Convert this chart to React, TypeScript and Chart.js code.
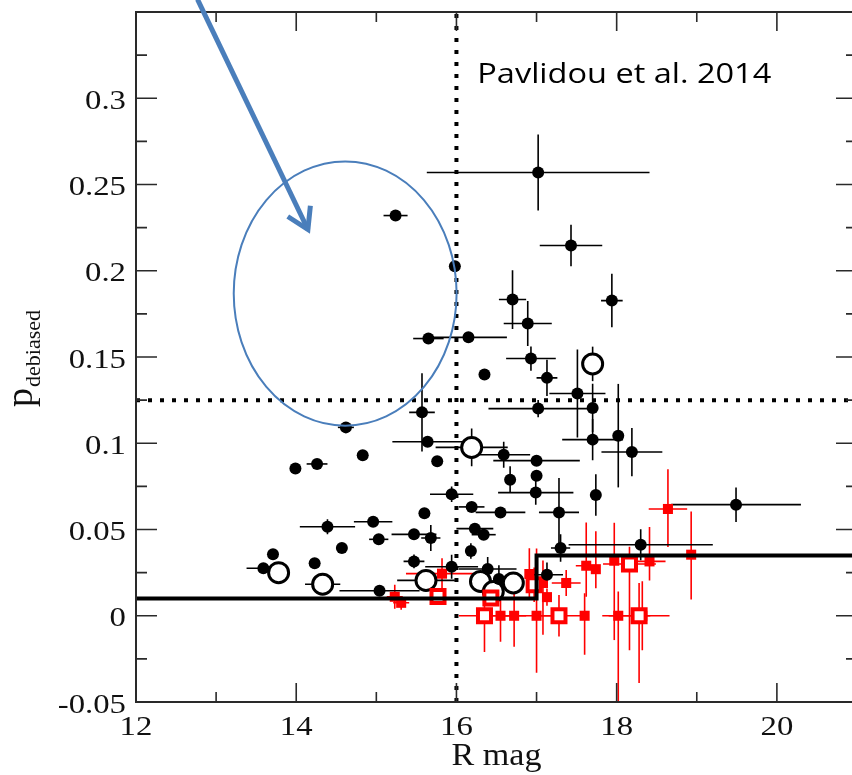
import React, { useEffect, useRef } from "react";
import { Chart, registerables } from "chart.js";

Chart.register(...registerables);

// ---------------- axes ----------------
const X_MIN = 12;
const X_MAX = 21;
const Y_MIN = -0.05;
const Y_MAX = 0.35;
const xMajorTicks = [12, 14, 16, 18, 20];
const xMinorTicks = [13, 15, 17, 19];
const xTickLabels = ["12", "14", "16", "18", "20"];
const yMajorTicks = [-0.05, 0, 0.05, 0.1, 0.15, 0.2, 0.25, 0.3];
const yMinorTicks = [-0.025, 0.025, 0.075, 0.125, 0.175, 0.225, 0.275, 0.325];
const yTickLabels = ["-0.05", "0", "0.05", "0.1", "0.15", "0.2", "0.25", "0.3"];
const xTitle = "R mag";
const yTitleMain = "p";
const yTitleSub = "debiased";
const noteText = "Pavlidou et al. 2014";

// ---------------- thresholds ----------------
const magCut = 16;
const pCut = 0.125;
const stepX = [12, 17, 17, 21];
const stepY = [0.01, 0.01, 0.035, 0.035];

// ---------------- black filled points ----------------
const blackX = [17.02, 15.24, 17.43, 15.98, 16.70, 16.89, 17.94, 15.65, 16.15, 16.93, 17.13, 16.35, 17.51, 17.02, 17.70, 17.70, 18.02, 18.19, 16.59, 17.00, 17.00, 16.99, 16.67, 17.74, 17.28, 16.55, 16.19, 15.94, 15.76, 15.57, 15.64, 14.62, 14.83, 14.26, 13.99, 15.60, 14.39, 14.96, 15.03, 15.47, 15.68, 14.57, 13.71, 13.59, 14.23, 15.04, 15.47, 15.94, 16.23, 16.34, 16.18, 16.39, 16.53, 17.13, 17.30, 18.30, 19.49];
const blackY = [0.257, 0.232, 0.2146, 0.2026, 0.1833, 0.1694, 0.1827, 0.1607, 0.1614, 0.1491, 0.1379, 0.1398, 0.1288, 0.1201, 0.1205, 0.1021, 0.1044, 0.0949, 0.0933, 0.0899, 0.0812, 0.0714, 0.0789, 0.0700, 0.0599, 0.0599, 0.0631, 0.0704, 0.0895, 0.1179, 0.1009, 0.1092, 0.0930, 0.0880, 0.0853, 0.0594, 0.0516, 0.0545, 0.0443, 0.0472, 0.0451, 0.0393, 0.0356, 0.0275, 0.0304, 0.0145, 0.0315, 0.0284, 0.0505, 0.0470, 0.0375, 0.0271, 0.0213, 0.0238, 0.0393, 0.0412, 0.0644];
const blackXErr = [1.39, 0.15, 0.39, 0, 0.17, 0.30, 0.135, 0.19, 0.48, 0.31, 0.13, 0, 0.35, 0.62, 0, 0.38, 0, 0.38, 0.33, 0.54, 0, 0.47, 0.05, 0, 0.25, 0.31, 0.16, 0.27, 0, 0.16, 0.44, 0.1, 0, 0.13, 0, 0, 0.345, 0.24, 0.12, 0.28, 0.12, 0, 0, 0.21, 0, 0.5, 0.13, 0.33, 0.23, 0.15, 0, 0.36, 0, 0.2, 0.12, 0.9, 0.81];
const blackYErr = [0.022, 0, 0.012, 0, 0.017, 0.013, 0.0155, 0, 0, 0.007, 0.0105, 0, 0.0255, 0.005, 0.014, 0.012, 0.03, 0.014, 0.0075, 0, 0, 0.007, 0.0077, 0.012, 0.02, 0, 0, 0.0045, 0, 0.0227, 0, 0, 0, 0, 0, 0, 0.0044, 0, 0, 0, 0.0075, 0, 0, 0, 0, 0, 0.004, 0.007, 0, 0, 0.0045, 0.007, 0.008, 0.007, 0.008, 0.009, 0.01];

// ---------------- black open circles ----------------
const circleX = [13.78, 14.33, 15.62, 16.30, 16.46, 16.71, 16.19, 17.70];
const circleY = [0.025, 0.0183, 0.0205, 0.0199, 0.014, 0.019, 0.0976, 0.146];
const circleXErr = [0, 0.22, 0.36, 0, 0, 0, 0.45, 0];
const circleYErr = [0, 0, 0, 0, 0, 0, 0.011, 0.01];

// ---------------- red filled squares ----------------
const redX = [15.23, 15.31, 15.82, 16.55, 16.72, 16.91, 17.08, 17.13, 17.00, 17.60, 17.37, 17.62, 17.74, 17.97, 18.02, 18.41, 18.32, 18.64, 18.93];
const redY = [0.011, 0.0075, 0.0244, 0.0, 0.0, 0.0242, 0.019, 0.0108, 0.0, 0.0, 0.019, 0.029, 0.027, 0.0319, 0.0, 0.0315, 0.0, 0.0619, 0.0354];
const redXErr = [0.1, 0.1, 0.45, 0.1, 0.15, 0.05, 0, 0, 0.27, 0.05, 0.18, 0.13, 0.03, 0, 0.2, 0.2, 0.1, 0.24, 0];
const redYErrLo = [0.007, 0.004, 0.009, 0.015, 0.018, 0.015, 0.03, 0.005, 0.033, 0.0226, 0.0075, 0.018, 0.011, 0.046, 0.06, 0.011, 0.02, 0.022, 0.026];
const redYErrHi = [0.007, 0.004, 0.009, 0.015, 0.018, 0.015, 0.013, 0.005, 0.039, 0.013, 0.0075, 0.025, 0.022, 0.022, 0.014, 0.02, 0.02, 0.023, 0.025];

// ---------------- red open squares ----------------
const redOpenX = [15.77, 16.43, 16.35, 16.97, 17.28, 18.16, 18.28];
const redOpenY = [0.0112, 0.0103, 0.0, 0.018, 0.0, 0.030, 0.0];
const redOpenXErr = [0, 0, 0.32, 0, 0.27, 0.33, 0.38];
const redOpenYErrLo = [0, 0, 0.021, 0.01, 0.012, 0.05, 0.039];
const redOpenYErrHi = [0, 0, 0.02, 0.01, 0.012, 0.01, 0.019];

// ---------------- annotation (data coords) ----------------
const ellipseCenter = [14.611, 0.1868];
const ellipseRadii = [1.391, 0.0766];
const arrowFrom = [12.768, 0.3573];
const arrowTo = [14.146, 0.2239];
const noteAt = [16.26, 0.309];

const BLUE = "#4a7ebb";
const RED = "#ff0000";
const SERIF = "'Liberation Serif', 'Times New Roman', serif";

const pts = (xs: number[], ys: number[]) => xs.map((x, i) => ({ x, y: ys[i] }));

type ErrSet = { xs: number[]; ys: number[]; xe: number[]; lo: number[]; hi: number[]; color: string };

const errSets: ErrSet[] = [
  { xs: redX, ys: redY, xe: redXErr, lo: redYErrLo, hi: redYErrHi, color: RED },
  { xs: redOpenX, ys: redOpenY, xe: redOpenXErr, lo: redOpenYErrLo, hi: redOpenYErrHi, color: RED },
  { xs: blackX, ys: blackY, xe: blackXErr, lo: blackYErr, hi: blackYErr, color: "#000" },
  { xs: circleX, ys: circleY, xe: circleXErr, lo: circleYErr, hi: circleYErr, color: "#000" },
];

const errorBarPlugin = {
  id: "errorBars",
  beforeDatasetsDraw(chart: any) {
    const { ctx, chartArea, scales } = chart;
    const xs = scales.x;
    const ys = scales.y;
    ctx.save();
    ctx.beginPath();
    ctx.rect(chartArea.left, chartArea.top, chartArea.right - chartArea.left, chartArea.bottom - chartArea.top);
    ctx.clip();
    ctx.lineWidth = 1.6;
    for (const s of errSets) {
      ctx.strokeStyle = s.color;
      for (let i = 0; i < s.xs.length; i++) {
        const px = xs.getPixelForValue(s.xs[i]);
        const py = ys.getPixelForValue(s.ys[i]);
        ctx.beginPath();
        if (s.xe[i] > 0) {
          ctx.moveTo(xs.getPixelForValue(s.xs[i] - s.xe[i]), py);
          ctx.lineTo(xs.getPixelForValue(s.xs[i] + s.xe[i]), py);
        }
        if (s.lo[i] > 0 || s.hi[i] > 0) {
          ctx.moveTo(px, ys.getPixelForValue(s.ys[i] - s.lo[i]));
          ctx.lineTo(px, ys.getPixelForValue(s.ys[i] + s.hi[i]));
        }
        ctx.stroke();
      }
    }
    ctx.restore();
  },
};

function stretchText(ctx: CanvasRenderingContext2D, text: string, x: number, y: number, align: CanvasTextAlign, sx: number) {
  ctx.save();
  ctx.translate(x, y);
  ctx.scale(sx, 1);
  ctx.textAlign = align;
  ctx.textBaseline = "alphabetic";
  ctx.fillText(text, 0, 0);
  ctx.restore();
}

const framePlugin = {
  id: "frame",
  afterDraw(chart: any) {
    const { ctx, chartArea, scales } = chart;
    const xs = scales.x;
    const ys = scales.y;
    const { left, right, top, bottom } = chartArea;
    ctx.save();
    // frame
    ctx.strokeStyle = "#2a2a2a";
    ctx.lineWidth = 2;
    ctx.strokeRect(left, top, right - left, bottom - top);
    // ticks
    ctx.lineWidth = 1.6;
    ctx.beginPath();
    const majL = 19, minL = 10;
    for (const v of xMajorTicks) {
      const p = xs.getPixelForValue(v);
      ctx.moveTo(p, bottom); ctx.lineTo(p, bottom - majL);
      ctx.moveTo(p, top); ctx.lineTo(p, top + majL);
    }
    for (const v of xMinorTicks) {
      const p = xs.getPixelForValue(v);
      ctx.moveTo(p, bottom); ctx.lineTo(p, bottom - minL);
      ctx.moveTo(p, top); ctx.lineTo(p, top + minL);
    }
    for (const v of yMajorTicks) {
      const p = ys.getPixelForValue(v);
      ctx.moveTo(left, p); ctx.lineTo(left + 21, p);
      ctx.moveTo(right, p); ctx.lineTo(right - 21, p);
    }
    for (const v of yMinorTicks) {
      const p = ys.getPixelForValue(v);
      ctx.moveTo(left, p); ctx.lineTo(left + 11, p);
      ctx.moveTo(right, p); ctx.lineTo(right - 11, p);
    }
    ctx.stroke();

    // tick labels
    ctx.fillStyle = "#111";
    ctx.font = `28px ${SERIF}`;
    xMajorTicks.forEach((v, i) => {
      stretchText(ctx, xTickLabels[i], xs.getPixelForValue(v), bottom + 33, "center", 1.17);
    });
    yMajorTicks.forEach((v, i) => {
      stretchText(ctx, yTickLabels[i], left - 10, ys.getPixelForValue(v) + 10.5, "right", 1.17);
    });

    // x title
    ctx.font = `31px ${SERIF}`;
    stretchText(ctx, xTitle, (left + right) / 2, bottom + 63, "center", 1.1);

    // y title (rotated)
    ctx.save();
    ctx.translate(32, 407);
    ctx.rotate(-Math.PI / 2);
    ctx.textAlign = "left";
    ctx.textBaseline = "alphabetic";
    ctx.font = `38px ${SERIF}`;
    ctx.fillText(yTitleMain, 0, 0);
    const pw = ctx.measureText(yTitleMain).width;
    ctx.font = `22px ${SERIF}`;
    ctx.fillText(yTitleSub, pw + 1, 8);
    ctx.restore();

    // note text
    ctx.font = `28px 'Open Sans', sans-serif`;
    ctx.fillStyle = "#000";
    const nx = xs.getPixelForValue(noteAt[0]);
    const ny = ys.getPixelForValue(noteAt[1]);
    const w = ctx.measureText(noteText).width;
    stretchText(ctx, noteText, nx, ny, "left", 294 / w);

    // ellipse
    const cx = xs.getPixelForValue(ellipseCenter[0]);
    const cy = ys.getPixelForValue(ellipseCenter[1]);
    const rx = xs.getPixelForValue(ellipseCenter[0] + ellipseRadii[0]) - cx;
    const ry = cy - ys.getPixelForValue(ellipseCenter[1] + ellipseRadii[1]);
    ctx.strokeStyle = BLUE;
    ctx.lineWidth = 2;
    ctx.beginPath();
    ctx.ellipse(cx, cy, rx, ry, 0, 0, Math.PI * 2);
    ctx.stroke();

    // arrow
    const ax0 = xs.getPixelForValue(arrowFrom[0]);
    const ay0 = ys.getPixelForValue(arrowFrom[1]);
    const ax1 = xs.getPixelForValue(arrowTo[0]);
    const ay1 = ys.getPixelForValue(arrowTo[1]);
    ctx.lineWidth = 5;
    ctx.lineCap = "butt";
    ctx.lineJoin = "miter";
    ctx.beginPath();
    ctx.moveTo(ax0, ay0);
    ctx.lineTo(ax1, ay1);
    ctx.stroke();
    const ang = Math.atan2(ay0 - ay1, ax0 - ax1);
    const hl = 24, ha = 0.55;
    ctx.beginPath();
    ctx.moveTo(ax1 + hl * Math.cos(ang + ha), ay1 + hl * Math.sin(ang + ha));
    ctx.lineTo(ax1, ay1);
    ctx.lineTo(ax1 + hl * Math.cos(ang - ha), ay1 + hl * Math.sin(ang - ha));
    ctx.stroke();
    ctx.restore();
  },
};

export default function App() {
  const ref = useRef<HTMLCanvasElement | null>(null);
  useEffect(() => {
    if (!ref.current) return;
    const chart = new Chart(ref.current, {
      type: "scatter",
      data: {
        datasets: [
          {
            label: "step",
            data: pts(stepX, stepY),
            showLine: true,
            borderColor: "#000",
            borderWidth: 4,
            pointRadius: 0,
            order: 0,
          } as any,
          {
            label: "pcut",
            data: [{ x: X_MIN, y: pCut }, { x: X_MAX, y: pCut }],
            showLine: true,
            borderColor: "#000",
            borderWidth: 4,
            borderDash: [4, 8],
            borderCapStyle: "butt",
            pointRadius: 0,
            order: 0,
          } as any,
          {
            label: "magcut",
            data: [{ x: magCut, y: Y_MIN }, { x: magCut, y: Y_MAX }],
            showLine: true,
            borderColor: "#000",
            borderWidth: 4,
            borderDash: [4, 8],
            borderCapStyle: "butt",
            pointRadius: 0,
            order: 0,
          } as any,
          {
            label: "black",
            data: pts(blackX, blackY),
            pointStyle: "circle",
            pointRadius: 6,
            pointBackgroundColor: "#000",
            pointBorderWidth: 0,
            order: 1,
          },
          {
            label: "redOpen",
            data: pts(redOpenX, redOpenY),
            pointStyle: "rect",
            pointRadius: 9.2,
            pointBackgroundColor: "#fff",
            pointBorderColor: RED,
            pointBorderWidth: 4,
            order: 2,
          },
          {
            label: "red",
            data: pts(redX, redY),
            pointStyle: "rect",
            pointRadius: 7.1,
            pointBackgroundColor: RED,
            pointBorderWidth: 0,
            order: 3,
          },
          {
            label: "circles",
            data: pts(circleX, circleY),
            pointStyle: "circle",
            pointRadius: 10,
            pointBackgroundColor: "#fff",
            pointBorderColor: "#000",
            pointBorderWidth: 3,
            order: 4,
          },
        ],
      },
      options: {
        responsive: false,
        devicePixelRatio: 1,
        animation: false,
        layout: { autoPadding: false, padding: { top: 12, right: 3, left: 0, bottom: 0 } },
        plugins: { legend: { display: false }, tooltip: { enabled: false } },
        scales: {
          x: {
            type: "linear",
            min: X_MIN,
            max: X_MAX,
            grid: { display: false },
            border: { display: false },
            ticks: { display: false },
            afterFit: (s: any) => { s.height = 73; },
          },
          y: {
            type: "linear",
            min: Y_MIN,
            max: Y_MAX,
            grid: { display: false },
            border: { display: false },
            ticks: { display: false },
            afterFit: (s: any) => { s.width = 136; },
          },
        },
      } as any,
      plugins: [errorBarPlugin, framePlugin],
    });
    return () => chart.destroy();
  }, []);
  return (
    <div style={{ position: "fixed", left: 0, top: 0, width: 852, height: 775, overflow: "hidden", background: "#fff" }}>
      <canvas ref={ref} width={860} height={775} style={{ display: "block", width: 860, height: 775 }} />
    </div>
  );
}
